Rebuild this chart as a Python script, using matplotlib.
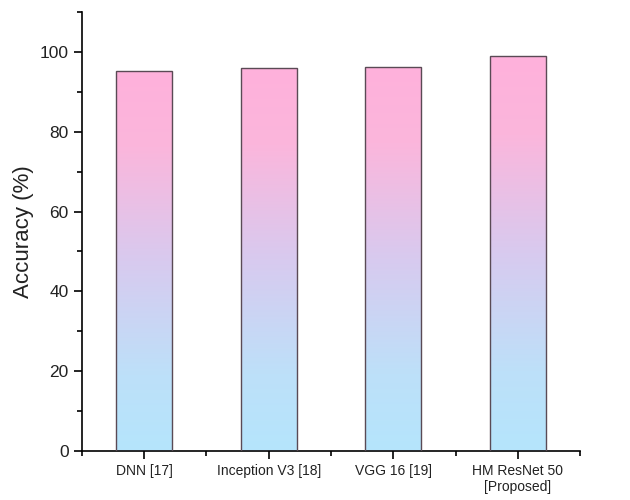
import matplotlib.pyplot as plt
import numpy as np
from matplotlib.colors import LinearSegmentedColormap
from matplotlib.ticker import MultipleLocator

plt.rcParams['font.family'] = ['Liberation Sans', 'DejaVu Sans']

models = ['DNN [17]', 'Inception V3 [18]', 'VGG 16 [19]', 'HM ResNet 50\n[Proposed]']
accuracy = [95.1, 95.9, 96.25, 99.0]

fig = plt.figure(figsize=(6.3, 5), dpi=100)
ax = fig.add_axes([0.130, 0.098, 0.791, 0.878])

x = np.arange(1, len(models) + 1)
bars = ax.bar(x, accuracy, width=0.45, facecolor='none', edgecolor='#5a4a55',
              linewidth=1.0, zorder=3)

# vertical gradient: light blue at bottom, pink at top
cmap = LinearSegmentedColormap.from_list(
    'bp', [(0.0, '#b5e5fc'), (0.2, '#bde0f9'), (0.5, '#d8caef'),
           (0.8, '#fbb6dc'), (1.0, '#ffb1db')])
grad = np.linspace(0, 1, 256).reshape(-1, 1)
for b in bars:
    x0, w, h = b.get_x(), b.get_width(), b.get_height()
    im = ax.imshow(grad, cmap=cmap, origin='lower', aspect='auto',
                   extent=[x0, x0 + w, 0, h], zorder=2)
    im.set_clip_path(b)

ax.set_xlim(0.5, 4.5)
ax.set_ylim(0, 110)
ax.set_xticks(x)
ax.set_xticklabels(models, fontsize=10, color='#222222')
ax.xaxis.set_minor_locator(MultipleLocator(1.0, offset=0.5))
ax.yaxis.set_major_locator(MultipleLocator(20))
ax.yaxis.set_minor_locator(MultipleLocator(10))
ax.tick_params(axis='y', labelsize=12.5, labelcolor='#222222')
ax.tick_params(which='major', direction='out', length=6, width=1.2)
ax.tick_params(which='minor', direction='out', length=3.5, width=1.2)
ax.set_ylabel('Accuracy (%)', fontsize=16, color='#222222')

for s in ['top', 'right']:
    ax.spines[s].set_visible(False)
for s in ['left', 'bottom']:
    ax.spines[s].set_linewidth(1.2)

fig.savefig('out.png', dpi=100)
